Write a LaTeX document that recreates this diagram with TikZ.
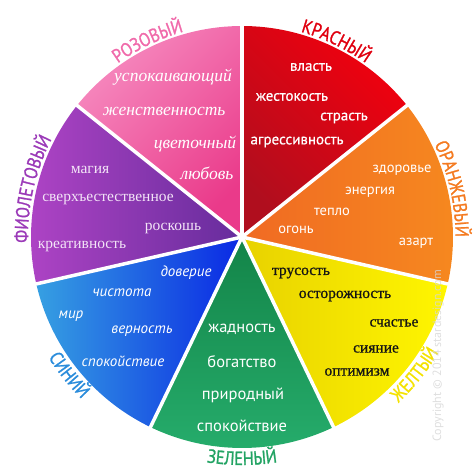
\documentclass[tikz,border=0pt]{standalone}
\usepackage{fontspec}
\setmainfont{Liberation Serif}
\newfontfamily\ptsans{PT Sans}
\newfontfamily\ptsansb[FakeBold=0.6]{PT Sans}
\newfontfamily\labfont[FakeStretch=0.86,FakeBold=1.2]{PT Sans}
\newfontfamily\libserif{Liberation Serif}
\newfontfamily\libserifb[FakeBold=0.8]{Liberation Serif}
\usetikzlibrary{decorations.text}
\definecolor{redA}{HTML}{F2000E}
\definecolor{redB}{HTML}{B00E1E}
\definecolor{orA}{HTML}{F6891F}
\definecolor{orB}{HTML}{F06A23}
\definecolor{yeA}{HTML}{FFF600}
\definecolor{yeB}{HTML}{E8D200}
\definecolor{grA}{HTML}{138448}
\definecolor{grB}{HTML}{26AD6C}
\definecolor{blA}{HTML}{36A0E2}
\definecolor{blB}{HTML}{0A28E4}
\definecolor{viA}{HTML}{B044C6}
\definecolor{viB}{HTML}{662C9C}
\definecolor{piA}{HTML}{F68ABF}
\definecolor{piB}{HTML}{EA3A8A}
\definecolor{labred}{HTML}{E0000F}
\definecolor{labor}{HTML}{F47A20}
\definecolor{labye}{HTML}{F4E200}
\definecolor{labgr}{HTML}{22A363}
\definecolor{labbl}{HTML}{2A8CDB}
\definecolor{labvi}{HTML}{9B3AB8}
\definecolor{labpi}{HTML}{F06AAA}
\definecolor{lavender}{HTML}{F3E4F7}
\begin{document}
\begin{tikzpicture}[x=1pt,y=1pt,
  redtxt/.style={text=white, inner sep=0pt, font=\ptsansb\fontsize{15}{17}\selectfont},
  orangetxt/.style={text=white, inner sep=0pt, font=\ptsans\fontsize{14.5}{17}\selectfont},
  greentxt/.style={text=white, inner sep=0pt, font=\ptsans\fontsize{16.5}{18}\selectfont},
  bluetxt/.style={text=white, inner sep=0pt, font=\ptsans\itshape\fontsize{15}{17}\selectfont},
  pinktxt/.style={text=white, inner sep=0pt, font=\libserif\itshape\fontsize{17.5}{19}\selectfont},
  violettxt/.style={text=lavender, inner sep=0pt, font=\libserif\fontsize{15.5}{17}\selectfont},
  yellowtxt/.style={text=black!92, inner sep=0pt, font=\libserifb\fontsize{15.5}{17}\selectfont},
  sep/.style={white, line width=3.5pt},
  outlab/.style={decorate, decoration={text along path, text align=center, text color=#1}},
]
\def\R{211}
\useasboundingbox (-242,-237) rectangle (232,237);
% sectors
\shade[top color=redA, bottom color=redB, shading angle=-45]
  (0,0) -- (90:\R) arc[start angle=90, end angle=38.571, radius=\R] -- cycle;
\shade[top color=orA, bottom color=orB, shading angle=-90]
  (0,0) -- (38.571:\R) arc[start angle=38.571, end angle=-12.857, radius=\R] -- cycle;
\shade[top color=yeA, bottom color=yeB, shading angle=-90]
  (0,0) -- (-12.857:\R) arc[start angle=-12.857, end angle=-64.286, radius=\R] -- cycle;
\shade[top color=grA, bottom color=grB, shading angle=0]
  (0,0) -- (-64.286:\R) arc[start angle=-64.286, end angle=-115.714, radius=\R] -- cycle;
\shade[top color=blA, bottom color=blB, shading angle=90]
  (0,0) -- (-115.714:\R) arc[start angle=-115.714, end angle=-167.143, radius=\R] -- cycle;
\shade[top color=viA, bottom color=viB, shading angle=90]
  (0,0) -- (-167.143:\R) arc[start angle=-167.143, end angle=-218.571, radius=\R] -- cycle;
\shade[top color=piA, bottom color=piB, shading angle=45]
  (0,0) -- (-218.571:\R) arc[start angle=-218.571, end angle=-270, radius=\R] -- cycle;
% separators
\foreach \a in {90,38.571,-12.857,-64.286,-115.714,-167.143,-218.571}
  \draw[sep] (0,0) -- (\a:\R+3);
\fill[white] (0,0) circle (2.5);
% red
\node[redtxt] (r1) at (69,170) {власть};
\node[redtxt] (r2) at (50,140) {жестокость};
\node[redtxt] (r3) at (102,119) {страсть};
\node[redtxt] (r4) at (55,95) {агрессивность};
% orange
\node[orangetxt] (o1) at (160,67) {здоровье};
\node[orangetxt] (o2) at (128,45) {энергия};
\node[orangetxt] (o3) at (90,25) {тепло};
\node[orangetxt] (o4) at (54,7) {огонь};
\node[orangetxt] (o5) at (174,-6) {азарт};
% yellow
\node[yellowtxt] (y1) at (59,-36) {трусость};
\node[yellowtxt] (y2) at (103,-59) {осторожность};
\node[yellowtxt] (y3) at (152,-86) {счастье};
\node[yellowtxt] (y4) at (134,-112) {сияние};
\node[yellowtxt] (y5) at (115,-135) {оптимизм};
% green
\node[greentxt] (g1) at (0,-92) {жадность};
\node[greentxt] (g2) at (0,-125) {богатство};
\node[greentxt] (g3) at (1,-158) {природный};
\node[greentxt] (g4) at (0,-189) {спокойствие};
% blue
\node[bluetxt] (b1) at (-56,-36) {доверие};
\node[bluetxt] (b2) at (-120,-56) {чистота};
\node[bluetxt] (b3) at (-171,-79) {мир};
\node[bluetxt] (b4) at (-100,-94) {верность};
\node[bluetxt] (b5) at (-119,-124) {спокойствие};
% violet
\node[violettxt] (v1) at (-152,67) {магия};
\node[violettxt] (v2) at (-134,38) {сверхъестественное};
\node[violettxt] (v3) at (-69,9) {роскошь};
\node[violettxt] (v4) at (-160,-9) {креативность};
% pink
\node[pinktxt] (p1) at (-69,160) {успокаивающий};
\node[pinktxt] (p2) at (-78,126) {женственность};
\node[pinktxt] (p3) at (-47,93) {цветочный};
\node[pinktxt] (p4) at (-35,64) {любовь};
% outer labels
\def\LF{\labfont\fontsize{19}{19}\selectfont}
\path[outlab=labred, decoration={text={|\LF|КРАСНЫЙ}}]
  (94.29:213.5) arc[start angle=94.29, end angle=34.29, radius=213.5];
\path[outlab=labor, decoration={text={|\LF|ОРАНЖЕВЫЙ}}]
  (47.86:213.5) arc[start angle=47.86, end angle=-22.14, radius=213.5];
\path[outlab=labye, decoration={text={|\LF|ЖЕЛТЫЙ}}]
  (-68.57:228) arc[start angle=-68.57, end angle=-8.57, radius=228];
\path[outlab=labgr, decoration={text={|\LF|ЗЕЛЕНЫЙ}}]
  (-120:228) arc[start angle=-120, end angle=-60, radius=228];
\path[outlab=labbl, decoration={text={|\LF|СИНИЙ}}]
  (-171.43:228) arc[start angle=-171.43, end angle=-111.43, radius=228];
\path[outlab=labvi, decoration={text={|\LF|ФИОЛЕТОВЫЙ}}]
  (202.14:214) arc[start angle=202.14, end angle=132.14, radius=214];
\path[outlab=labpi, decoration={text={|\LF|РОЗОВЫЙ}}]
  (145.71:213.5) arc[start angle=145.71, end angle=85.71, radius=213.5];
% watermark
\node[rotate=90, text=black!16, opacity=0.8, inner sep=0pt, font=\ptsans\fontsize{12}{14}\selectfont] (cp) at (196,-119) {Copyright © 2014 stardesign.com};
\end{tikzpicture}
\end{document}
